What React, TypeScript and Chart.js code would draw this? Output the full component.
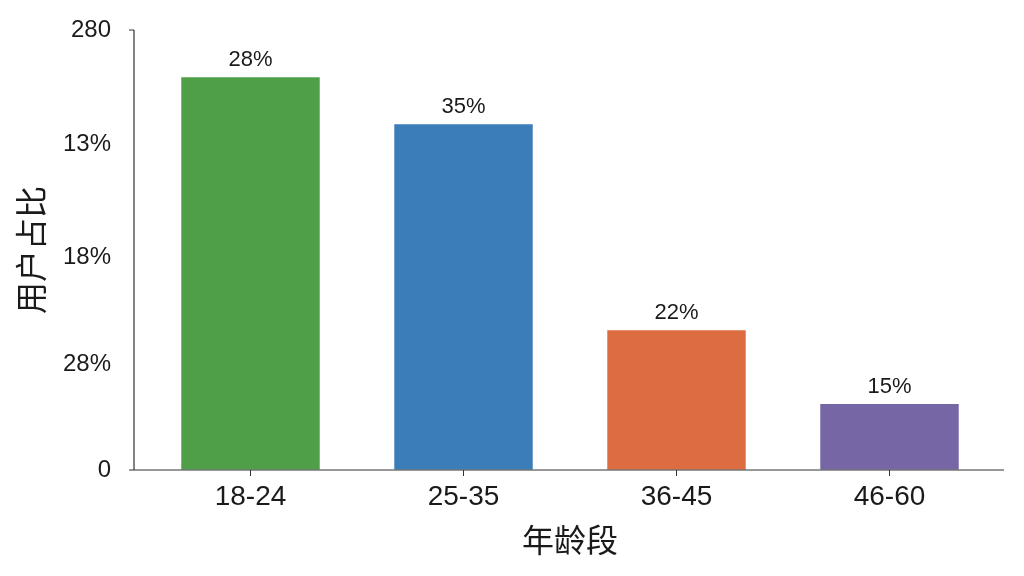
import React, { useEffect, useRef } from "react";
import { Chart, registerables } from "chart.js";

Chart.register(...registerables);

// data
const ageGroups = ["18-24", "25-35", "36-45", "46-60"];
const barValues = [250, 220, 89, 42];
const barLabels = ["28%", "35%", "22%", "15%"];
const barColors = ["#4f9f48", "#3b7db9", "#dd6d41", "#7766a5"];
const tickValues = [0, 67, 135, 207, 280];
const tickLabels = ["0", "28%", "18%", "13%", "280"];

const FONT = "'Liberation Sans', 'Noto Sans CJK SC', Arial, sans-serif";

// value labels above the bars + offset axis lines
const extrasPlugin = {
  id: "extras",
  afterDatasetsDraw(chart: any) {
    const ctx = chart.ctx;
    const meta = chart.getDatasetMeta(0);
    ctx.save();
    ctx.fillStyle = "#1a1a1a";
    ctx.font = `22px ${FONT}`;
    ctx.textAlign = "center";
    ctx.textBaseline = "alphabetic";
    meta.data.forEach((bar: any, i: number) => {
      ctx.fillText(barLabels[i], bar.x, bar.y - 11);
    });

    const { left, right, bottom } = chart.chartArea;
    const yScale = chart.scales.y;
    const topY = yScale.getPixelForValue(280);
    ctx.strokeStyle = "#333";
    ctx.lineWidth = 1.2;
    ctx.beginPath();
    ctx.moveTo(left - 10, topY);
    ctx.lineTo(left - 10, bottom);
    ctx.moveTo(left - 15, bottom);
    ctx.lineTo(right + 8, bottom);
    ctx.moveTo(left - 15, topY);
    ctx.lineTo(left - 10, topY);
    ctx.stroke();
    ctx.restore();
  },
};

const BarChart: React.FC = () => {
  const canvasRef = useRef<HTMLCanvasElement | null>(null);
  const chartRef = useRef<Chart | null>(null);

  useEffect(() => {
    if (chartRef.current) chartRef.current.destroy();
    if (!canvasRef.current) return;

    chartRef.current = new Chart(canvasRef.current, {
      type: "bar",
      data: {
        labels: ageGroups,
        datasets: [
          {
            data: barValues,
            backgroundColor: barColors,
            borderWidth: 0,
            barPercentage: 0.65,
            categoryPercentage: 1,
          },
        ],
      },
      options: {
        responsive: false,
        animation: false,
        layout: { padding: { top: 30, right: 28, left: 0, bottom: 0 } },
        plugins: {
          legend: { display: false },
          tooltip: { enabled: false },
        },
        scales: {
          x: {
            border: { display: false },
            grid: {
              offset: false,
              drawOnChartArea: false,
              drawTicks: true,
              tickLength: 6,
              color: "#333",
            },
            ticks: {
              color: "#1a1a1a",
              font: { family: FONT, size: 28 },
              padding: 4,
            },
            title: {
              display: true,
              text: "年龄段",
              color: "#1a1a1a",
              font: { family: FONT, size: 32 },
              padding: { top: 0, bottom: 14 },
            },
            afterFit: (scale: any) => {
              scale.height = 106;
            },
          },
          y: {
            min: 0,
            max: 280,
            border: { display: false },
            // invisible tick marks just push the labels away from the axis
            grid: {
              drawOnChartArea: false,
              drawTicks: true,
              tickLength: 30,
              color: "rgba(0,0,0,0)",
            },
            afterBuildTicks: (scale: any) => {
              scale.ticks = tickValues.map((v) => ({ value: v }));
            },
            ticks: {
              color: "#1a1a1a",
              font: { family: FONT, size: 24 },
              padding: 3,
              callback: (_v: any, i: number) => tickLabels[i],
            },
            title: {
              display: true,
              text: "用户占比",
              color: "#1a1a1a",
              font: { family: FONT, size: 32 },
              padding: { top: 15, bottom: 0 },
            },
            afterFit: (scale: any) => {
              scale.width = 144;
            },
          },
        },
      },
      plugins: [extrasPlugin],
    });

    return () => {
      if (chartRef.current) chartRef.current.destroy();
      chartRef.current = null;
    };
  }, []);

  return <canvas ref={canvasRef} width={1024} height={576} />;
};

export default function App() {
  return (
    <div
      style={{
        position: "fixed",
        left: 0,
        top: 0,
        width: 1024,
        height: 576,
        background: "#fff",
      }}
    >
      <BarChart />
    </div>
  );
}
